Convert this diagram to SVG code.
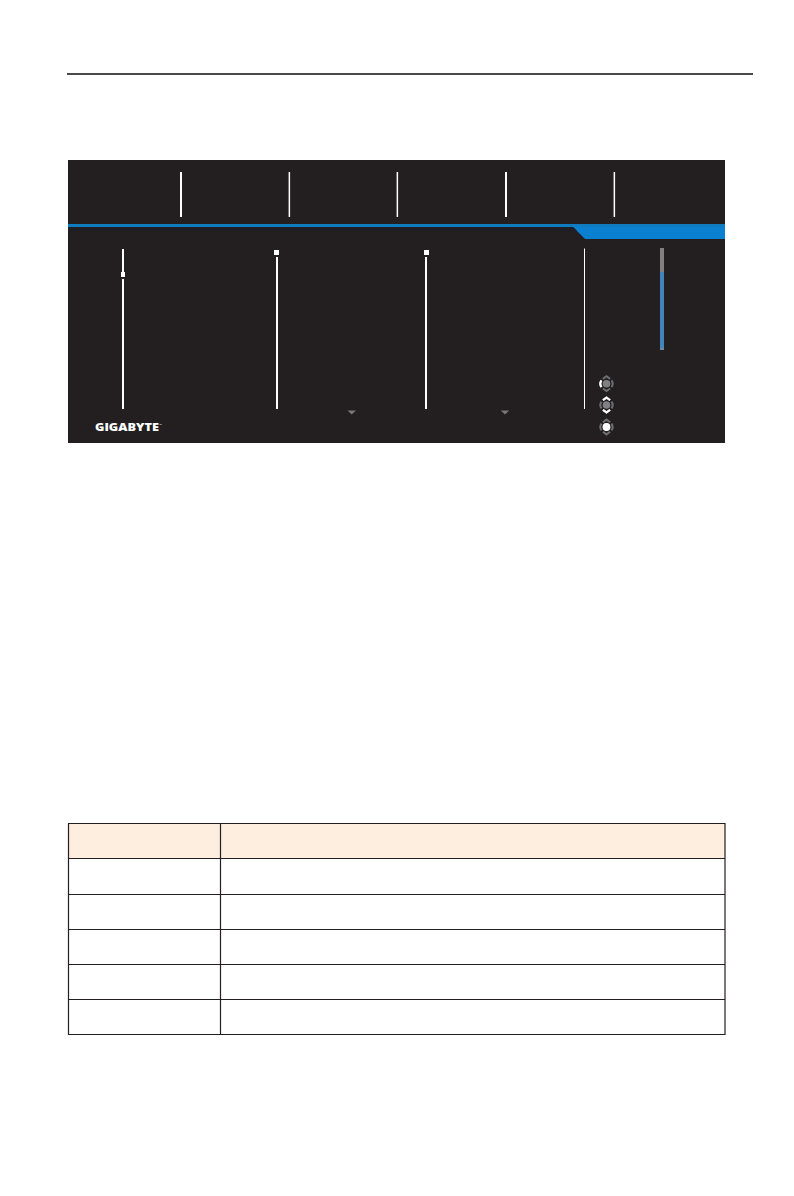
<svg xmlns="http://www.w3.org/2000/svg" width="794" height="1196" viewBox="0 0 794 1196">
<style>
.w{fill:#fff}
.grid{stroke:#231f20;stroke-width:1.2;fill:none}
.tri{fill:#77777a}
.g{fill:#808083}
.ga{fill:none;stroke:#6f6f72;stroke-width:2;stroke-linecap:butt}
.wa{fill:none;stroke:#fff;stroke-width:2.2}
</style>
<defs>
<g id="pad">
<circle r="3.800" class="g"/>
<path class="ga" d="M-3.600 -4.800L0 -7.400L3.600 -4.800"/>
<path class="ga" d="M-3.600 4.800L0 7.400L3.600 4.800"/>
<path class="ga" d="M-5 -3.400Q-7.400 0 -5 3.400"/>
<path class="ga" d="M5 -3.400Q7.400 0 5 3.400"/>
</g>
</defs>
<rect width="794" height="1196" fill="#fff"/>
<rect id="top-rule" x="67" y="73" width="686" height="2" fill="#4a4a4b"/>
<g id="osd">
<rect x="68" y="160" width="657" height="283" fill="#231f20"/>
<rect x="68" y="224" width="657" height="3" fill="#0f7cc0"/>
<path d="M573 227L585 239H725V227Z" fill="#0b80d0"/>
<path d="M68 227H573L577 231H68Z" fill="#1f1e26"/>
<rect class="w" x="180" y="172" width="2" height="45"/>
<rect class="w" x="288.600" y="172" width="1.500" height="45"/>
<rect class="w" x="396.600" y="172" width="1.500" height="45"/>
<rect class="w" x="505" y="172" width="2" height="45"/>
<rect class="w" x="613.600" y="172" width="1.500" height="45"/>
<rect class="w" x="122" y="249" width="2" height="23"/>
<rect class="w" x="122" y="279" width="2" height="130"/>
<rect class="w" x="121" y="272" width="4" height="5"/>
<rect class="w" x="276" y="257" width="2" height="152"/>
<rect class="w" x="274" y="250" width="5" height="5"/>
<rect class="w" x="425" y="257" width="2" height="152"/>
<rect class="w" x="424" y="250" width="5" height="5"/>
<rect class="w" x="584" y="248.500" width="1" height="160.500"/>
<rect x="660" y="248" width="4" height="24" fill="#808083"/>
<rect x="660" y="272" width="4" height="76" fill="#3f87b8"/>
<rect x="660" y="348" width="4" height="2" fill="#6f8796"/>
<path class="tri" d="M347.500 410.500H356L351.700 414.500Z"/>
<path class="tri" d="M500.700 410.500H509.200L505 414.500Z"/>
<use href="#pad" x="606.500" y="383.700"/>
<path class="wa" d="M601.500 380.300Q599.100 383.700 601.500 387.100"/>
<use href="#pad" x="606.500" y="405"/>
<path class="wa" d="M602.900 400.200L606.500 397.600L610.100 400.200"/>
<path class="wa" d="M602.900 409.800L606.500 412.400L610.100 409.800"/>
<use href="#pad" x="606.500" y="427"/>
<circle class="w" cx="606.500" cy="427" r="3.900"/>
<text x="95" y="431" font-family="'Open Sans','Liberation Sans',sans-serif" font-weight="800" font-size="11" textLength="64" lengthAdjust="spacingAndGlyphs" fill="#fff">GIGABYTE</text>
<text x="159" y="425.500" font-family="'Liberation Sans',sans-serif" font-size="3" fill="#fff">™</text>
</g>
<g id="table">
<rect x="68.500" y="823.500" width="656.500" height="35" fill="#fdeee0"/>
<path class="grid" d="M68.500 823.500H725V1034.500H68.500Z"/>
<path class="grid" d="M68.500 858.500H725M68.500 894.500H725M68.500 929.500H725M68.500 964.500H725M68.500 999.500H725M220.500 823.500V1034.500"/>
</g>
</svg>
